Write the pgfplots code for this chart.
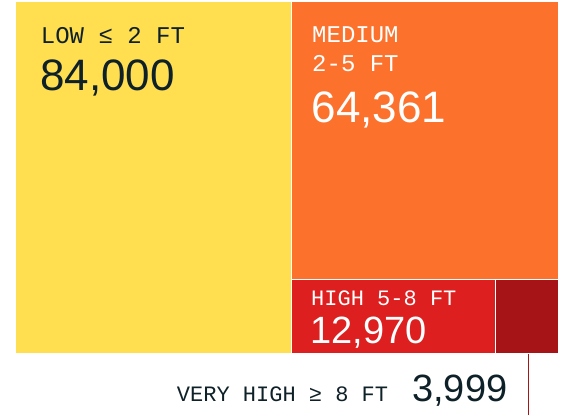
\documentclass[border=0pt]{standalone}
\usepackage{pgfplots}
\pgfplotsset{compat=1.18}
\usepackage{fontspec}
\setmainfont{Liberation Sans}
\newfontfamily\monof{Liberation Mono}
\definecolor{cyel}{HTML}{FFDE50}
\definecolor{corg}{HTML}{FC722C}
\definecolor{cred}{HTML}{DD1F1F}
\definecolor{cdred}{HTML}{A61418}
\definecolor{ctxt}{HTML}{0F2128}
\begin{document}
\begin{tikzpicture}
\begin{axis}[x=1pt,y=1pt,y dir=reverse,xmin=0,xmax=565,ymin=0,ymax=415,
  hide axis,clip=false,scale only axis]
% background
\addplot[fill=white,draw=none] coordinates {(0,0) (565,0) (565,415) (0,415)} -- cycle;
% treemap: Low 84,000 | Medium 64,361 | High 12,970 | Very high 3,999
\addplot[fill=cyel,draw=none] coordinates {(16,2) (291.2,2) (291.2,352.7) (16,352.7)} -- cycle;
\addplot[fill=corg,draw=none] coordinates {(292.3,2) (557.7,2) (557.7,279.3) (292.3,279.3)} -- cycle;
\addplot[fill=cred,draw=none] coordinates {(292.3,280.3) (495.3,280.3) (495.3,352.7) (292.3,352.7)} -- cycle;
\addplot[fill=cdred,draw=none] coordinates {(496.3,280.3) (557.7,280.3) (557.7,352.7) (496.3,352.7)} -- cycle;
\addplot[draw=cdred,line width=1.6pt] coordinates {(528.3,354) (528.3,415)};
% labels
\node[anchor=base west,inner sep=0pt,text=ctxt,font=\monof\fontsize{24}{28}\selectfont] at (axis cs:40.7,43.3) {LOW ≤ 2 FT};
\node[anchor=base west,inner sep=0pt,text=ctxt,font=\fontsize{44}{50}\selectfont] at (axis cs:40,90.7) {84,000};
\node[anchor=base west,inner sep=0pt,text=white,font=\monof\fontsize{24}{28}\selectfont] at (axis cs:312,42.7) {MEDIUM};
\node[anchor=base west,inner sep=0pt,text=white,font=\monof\fontsize{24}{28}\selectfont] at (axis cs:312,71.7) {2-5 FT};
\node[anchor=base west,inner sep=0pt,text=white,font=\fontsize{44}{50}\selectfont] at (axis cs:311.5,122) {64,361};
\node[anchor=base west,inner sep=0pt,text=white,font=\monof\fontsize{22}{26}\selectfont] at (axis cs:311,305) {HIGH 5-8 FT};
\node[anchor=base west,inner sep=0pt,text=white,font=\fontsize{38}{44}\selectfont] at (axis cs:310,343.3) {12,970};
\node[anchor=base west,inner sep=0pt,text=ctxt,font=\monof\fontsize{22}{26}\selectfont] at (axis cs:176.7,401.7) {VERY HIGH ≥ 8 FT};
\node[anchor=base west,inner sep=0pt,text=ctxt,font=\fontsize{38}{44}\selectfont] at (axis cs:412,401.5) {3,999};
\end{axis}
\end{tikzpicture}
\end{document}
